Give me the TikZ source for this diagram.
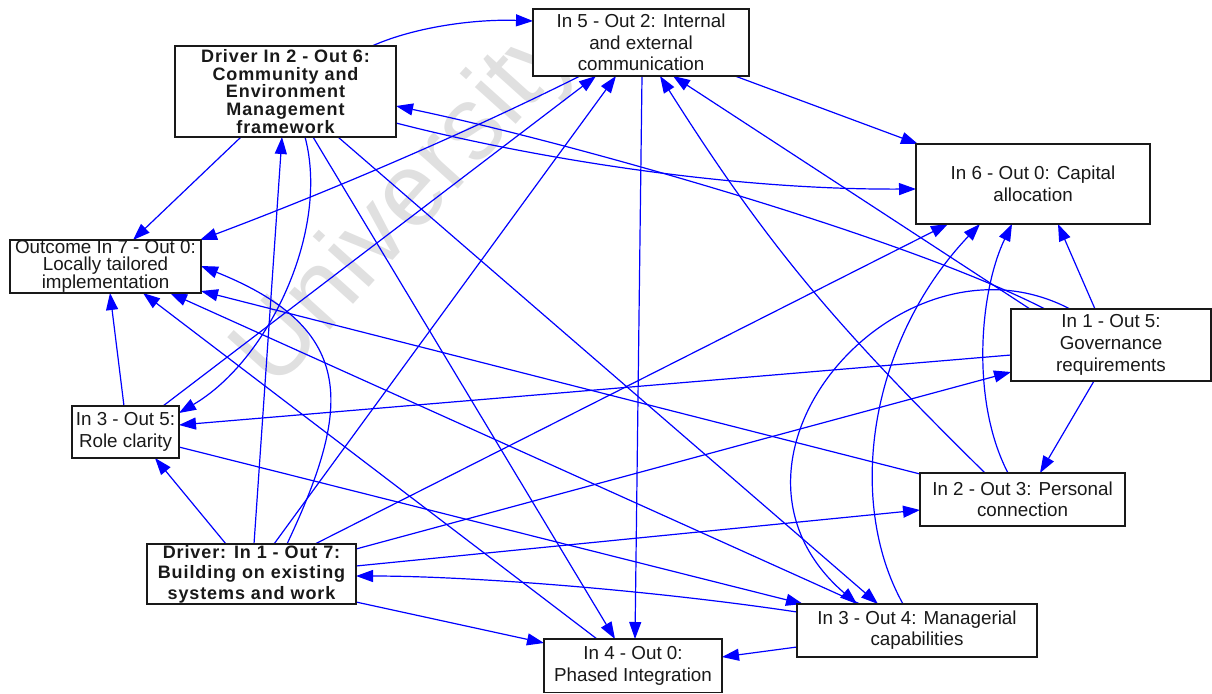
\documentclass[tikz,border=0pt]{standalone}
\usepackage{fontspec}
\setmainfont{Liberation Sans}
\newfontfamily\spacedsans[LetterSpace=5]{Liberation Sans}
\usetikzlibrary{arrows.meta,calc}
\pgfdeclarelayer{watermark}
\pgfdeclarelayer{links}
\pgfsetlayers{watermark,links,main}

\tikzset{
  box/.style={draw=black!90, line width=1.2pt, fill=white, rectangle,
    inner sep=0pt, outer sep=0pt, align=center, text=black!90},
  plain/.style={box, font=\fontsize{18.8}{#1}\selectfont},
  strong/.style={box, font=\spacedsans\bfseries\fontsize{18}{#1}\selectfont},
  link/.style={draw=blue, line width=1.2pt, -{Triangle[length=17pt,width=12pt]}},
}

\begin{document}
\begin{tikzpicture}[x=1pt, y=-1pt]
\useasboundingbox (0,0) rectangle (1212,693);

% boxes
\node[plain=21.7, minimum width=216pt, minimum height=67pt] (n52) at (641,42.5)
  {In 5 - Out 2: Internal\\and external\\communication};
\node[strong=17.7, minimum width=221pt, minimum height=91pt] (d26) at (285.5,91.5)
  {Driver In 2 - Out 6:\\Community and\\Environment\\Management\\framework};
\node[plain=16.3, minimum width=191pt, minimum height=53pt] (o7) at (105.5,266.5)
  {Outcome In 7 - Out 0:\\Locally tailored\\implementation};
\node[plain=21.7, minimum width=234pt, minimum height=80pt] (c60) at (1033,184)
  {In 6 - Out 0: Capital\\allocation};
\node[plain=21.7, minimum width=200pt, minimum height=72pt] (g15) at (1111,345)
  {In 1 - Out 5:\\Governance\\requirements};
\node[plain=21.3, minimum width=107pt, minimum height=52pt] (r35) at (125.5,432)
  {In 3 - Out 5:\\Role clarity};
\node[strong=20.5, minimum width=209pt, minimum height=60pt] (d17) at (251.5,574)
  {Driver: In 1 - Out 7:\\Building on existing\\systems and work};
\node[plain=21.7, minimum width=178pt, minimum height=53.5pt] (p40) at (633,665.75)
  {In 4 - Out 0:\\Phased Integration};
\node[plain=21, minimum width=240pt, minimum height=53pt] (m34) at (917,630.5)
  {In 3 - Out 4: Managerial\\capabilities};
\node[plain=21, minimum width=205pt, minimum height=53pt] (p23) at (1022.5,499.5)
  {In 2 - Out 3: Personal\\connection};

% faint watermark behind everything
\begin{pgfonlayer}{watermark}
\node[rotate=48, text=black!12, font=\fontsize{104}{104}\selectfont, inner sep=0pt]
  (wm) at (408,204) {University};
\end{pgfonlayer}

% links
\begin{pgfonlayer}{links}
\draw[link] ($(d26.north west)+(197,0)$) .. controls +(45,-20) and +(-55,-2) .. ($(n52.north west)+(0,12)$);
\draw[link] ($(d26.north west)+(66,91)$) -- ($(o7.north west)+(123,0)$);
\draw[link] ($(d26.north west)+(130,91)$) .. controls +(25,93) and +(90,-53) .. ($(r35.north west)+(107,7)$);
\draw[link] ($(d26.north west)+(221,77)$) .. controls +(124,32) and +(-196,1) .. ($(c60.north west)+(0,45)$);
\draw[link] ($(d26.north west)+(138,91)$) -- ($(p40.north west)+(71,0)$);
\draw[link] ($(d26.north west)+(163,91)$) -- ($(m34.north west)+(81,0)$);

\draw[link] ($(g15.north west)+(34,0)$) .. controls +(-145,-74) and +(164,34) .. ($(d26.north west)+(221,60)$);
\draw[link] ($(g15.north west)+(19,0)$) -- ($(n52.north west)+(140,67)$);
\draw[link] ($(g15.north west)+(84,0)$) -- ($(c60.north west)+(142,80)$);
\draw[link] ($(g15.north west)+(0,46)$) -- ($(r35.north west)+(107,19)$);
\draw[link] ($(g15.north west)+(83,72)$) -- ($(p23.north west)+(120,0)$);
\draw[link] ($(g15.north west)+(59,0)$) .. controls +(-170,-89) and +(-167,-144) .. ($(m34.north west)+(60,0)$);

\draw[link] ($(n52.north west)+(47,67)$) .. controls +(-120,60) and +(120,-45) .. ($(o7.north west)+(190,0)$);
\draw[link] ($(n52.north west)+(109,67)$) -- ($(p40.north west)+(91,0)$);
\draw[link] ($(n52.north west)+(202,67)$) -- ($(c60.north west)+(2,0)$);

\draw[link] ($(r35.north west)+(52,0)$) -- ($(o7.north west)+(100,53)$);
\draw[link] ($(r35.north west)+(91,0)$) -- ($(n52.north west)+(63,67)$);
\draw[link] ($(r35.north west)+(107,41)$) -- ($(m34.north west)+(6,0)$);

\draw[link] ($(d17.north west)+(79,0)$) -- ($(r35.north west)+(83,52)$);
\draw[link] ($(d17.north west)+(107,0)$) -- ($(d26.north west)+(107,91)$);
\draw[link] ($(d17.north west)+(127,0)$) -- ($(n52.north west)+(83,67)$);
\draw[link] ($(d17.north west)+(140,0)$) .. controls +(63,-134) and +(159,64) .. ($(o7.north west)+(191,26)$);
\draw[link] ($(d17.north west)+(168,0)$) -- ($(c60.north west)+(32,80)$);
\draw[link] ($(d17.north west)+(209,5)$) -- ($(g15.north west)+(0,63)$);
\draw[link] ($(d17.north west)+(209,22)$) -- ($(p23.north west)+(0,37)$);
\draw[link] ($(d17.north west)+(209,58)$) -- ($(p40.north west)+(0,4)$);

\draw[link] ($(m34.north west)+(106,0)$) .. controls +(-58,-104) and +(-110,116) .. ($(c60.north west)+(64,80)$);
\draw[link] ($(m34.north west)+(63,0)$) -- ($(o7.north west)+(160,53)$);
\draw[link] ($(m34.north west)+(0,8)$) .. controls +(-147,-22) and +(114,0) .. ($(d17.north west)+(209,32)$);
\draw[link] ($(m34.north west)+(0,43)$) -- ($(p40.north west)+(178,18)$);

\draw[link] ($(p23.north west)+(65,0)$) .. controls +(-145,-143) and +(110,174) .. ($(n52.north west)+(127,67)$);
\draw[link] ($(p23.north west)+(88,0)$) .. controls +(-38,-73) and +(-32,66) .. ($(c60.north west)+(96,80)$);
\draw[link] ($(p23.north west)+(0,1)$) -- ($(o7.north west)+(191,51)$);

\draw[link] ($(p40.north west)+(53,0)$) -- ($(o7.north west)+(133,53)$);
\end{pgfonlayer}
\end{tikzpicture}
\end{document}
